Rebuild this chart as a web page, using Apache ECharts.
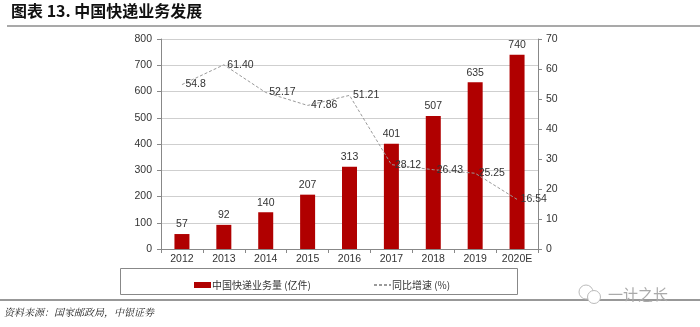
<!DOCTYPE html>
<html>
<head>
<meta charset="utf-8">
<script src="https://cdn.jsdelivr.net/npm/echarts@6/dist/echarts.min.js"></script>
<style>
  html, body { margin: 0; padding: 0; background: #fff; }
  #chart { width: 700px; height: 327px; }
</style>
</head>
<body>
<div id="chart"></div>
<script>
// Years and series values
var years = ['2012', '2013', '2014', '2015', '2016', '2017', '2018', '2019', '2020E'];
var volume = [57, 92, 140, 207, 313, 401, 507, 635, 740];           // 亿件
var growth = ['54.8', '61.40', '52.17', '47.86', '51.21', '28.12', '26.43', '25.25', '16.54']; // %

var volumeName = '中国快递业务量 (亿件)';
var growthName = '同比增速 (%)';
var titleText = '图表 13. 中国快递业务发展';
var sourceText = '资料来源：国家邮政局，中银证券';
var markText = '一计之长';

var numFont = '"Liberation Sans Narrow", "Arial Narrow", "Liberation Sans", Arial, sans-serif';
var cjkFont = '"Noto Sans CJK SC", "Liberation Sans", sans-serif';

var chart = echarts.init(document.getElementById('chart'), null, { renderer: 'canvas' });

chart.setOption({
  animation: false,
  backgroundColor: '#fff',
  grid: { left: 161, right: 162, top: 39, bottom: 78 },
  xAxis: {
    type: 'category',
    data: years,
    boundaryGap: true,
    axisLine: { lineStyle: { color: '#888', width: 1 } },
    axisTick: { show: true, length: 4, lineStyle: { color: '#888' } },
    axisLabel: { color: '#333', fontSize: 10.5, fontFamily: numFont, margin: 5 }
  },
  yAxis: [
    {
      type: 'value', min: 0, max: 800, interval: 100,
      axisLine: { show: true, lineStyle: { color: '#888' } },
      axisTick: { show: true, length: 4, lineStyle: { color: '#888' } },
      axisLabel: { color: '#333', fontSize: 10.5, fontFamily: numFont, margin: 9 },
      splitLine: { show: true, lineStyle: { color: '#cfcfcf', width: 1 } }
    },
    {
      type: 'value', min: 0, max: 70, interval: 10,
      position: 'right',
      axisLine: { show: true, lineStyle: { color: '#888' } },
      axisTick: { show: true, length: 4, lineStyle: { color: '#888' } },
      axisLabel: { color: '#333', fontSize: 10.5, fontFamily: numFont, margin: 8 },
      splitLine: { show: false }
    }
  ],
  legend: {
    left: 189, top: 275,
    itemWidth: 17, itemHeight: 6, itemGap: 62,
    textStyle: { color: '#333', fontSize: 10, fontFamily: cjkFont, padding: [0, 0, 0, -4] },
    data: [
      { name: volumeName, icon: 'rect' },
      { name: growthName }
    ]
  },
  series: [
    {
      name: volumeName,
      type: 'bar',
      data: volume,
      barWidth: 15,
      itemStyle: { color: '#B00000' },
      label: {
        show: true, position: 'top', distance: 4,
        color: '#333', fontSize: 10.5, fontFamily: numFont
      }
    },
    {
      name: growthName,
      type: 'line',
      yAxisIndex: 1,
      data: growth,
      symbol: 'circle',
      symbolSize: 1,
      itemStyle: { color: 'rgba(0,0,0,0)' },
      lineStyle: { color: '#9a9a9a', width: 1, type: [3, 2] },
      label: {
        show: true, position: 'right', distance: 3,
        color: '#333', fontSize: 10.5, fontFamily: numFont,
        formatter: function (p) { return growth[p.dataIndex]; }
      },
      z: 5
    }
  ],
  graphic: [
    // heading
    { type: 'text', left: 11, top: 3,
      style: { text: titleText, font: 'bold 16px ' + cjkFont, fill: '#111' } },
    { type: 'rect', shape: { x: 7, y: 25.5, width: 693, height: 1 },
      style: { fill: '#555' } },
    // legend frame
    { type: 'rect', shape: { x: 120.5, y: 268.5, width: 397, height: 26 },
      style: { fill: 'none', stroke: '#888', lineWidth: 1 }, z: -1 },
    // footer rule and source
    { type: 'rect', shape: { x: 0, y: 299.5, width: 700, height: 1 },
      style: { fill: '#333' } },
    { type: 'text', left: 4, top: 307,
      style: { text: sourceText, font: 'italic 10px "Noto Serif CJK SC", ' + cjkFont, fill: '#222' } },
    // account mark
    { type: 'circle', shape: { cx: 586, cy: 292, r: 7 },
      style: { fill: '#fff', stroke: '#bbb', lineWidth: 1 } },
    { type: 'circle', shape: { cx: 594, cy: 297, r: 6.5 },
      style: { fill: '#fff', stroke: '#bbb', lineWidth: 1 } },
    { type: 'text', left: 608, top: 287,
      style: { text: markText, font: '15px ' + cjkFont, fill: '#aaa' } }
  ]
});
</script>
</body>
</html>
